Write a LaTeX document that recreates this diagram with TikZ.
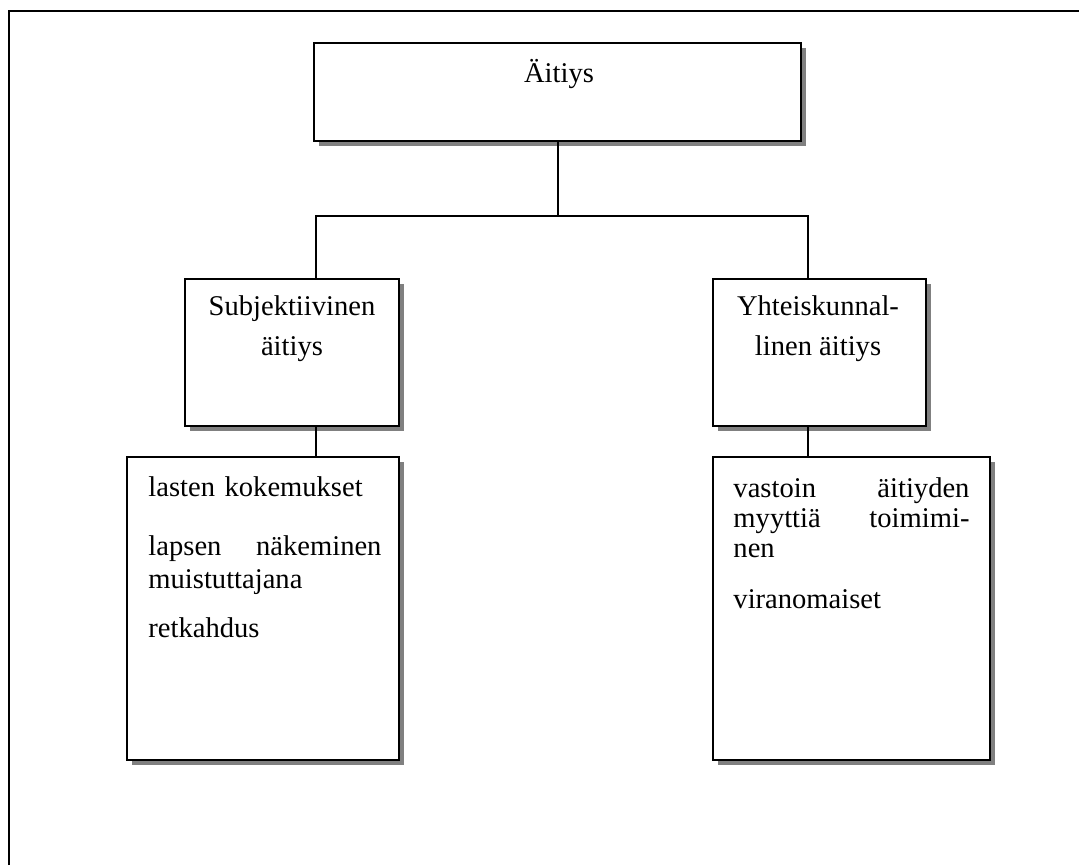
\documentclass[tikz,border=0pt]{standalone}
\usepackage{fontspec}
\setmainfont{Liberation Serif}
\usetikzlibrary{fit,shadows}

\tikzset{
  box/.style={draw, line width=0.8pt, fill=white, inner sep=0pt,
    drop shadow={shadow xshift=2pt, shadow yshift=-2pt, fill=black!50, opacity=1}},
  txt/.style={inner sep=0pt, font=\fontsize{12}{16.8}\selectfont},
  listtxt/.style={txt, anchor=base west, align=left},
  link/.style={line width=0.8pt}
}

\begin{document}
\begin{tikzpicture}[x=0.42pt, y=-0.42pt]
  \useasboundingbox (0,0) rectangle (1079,865);
  \draw[line width=1.2pt] (9,865) -- (9,11) -- (1079,11);

  % boxes
  \node[box, fit={(314,43) (801,141)}] (aitiys) {};
  \node[box, fit={(185,279) (399,426)}] (subj) {};
  \node[box, fit={(713,279) (926,426)}] (yht) {};
  \node[box, fit={(127,457) (399,760)}] (subjlist) {};
  \node[box, fit={(713,457) (990,760)}] (yhtlist) {};

  % texts (base = last line for centred ones)
  \node[txt, anchor=base] (aitiysT) at (559,82) {Äitiys};
  \node[txt, anchor=base, align=center] (subjT) at (292,355) {Subjektiivinen\\äitiys};
  \node[txt, anchor=base, align=center] (yhtT) at (818,355) {Yhteiskunnal-\\linen äitiys};
  \node[listtxt, text width=233*0.42pt, font=\fontsize{12}{13.9}\selectfont] (subjlistT) at (148,496)
    {lasten kokemukset\\[10.9pt]
     lapsen\hfill näkeminen\\
     muistuttajana\\[6.7pt]
     retkahdus};
  \node[listtxt, text width=236*0.42pt, font=\fontsize{12}{12.6}\selectfont] (yhtlistT) at (733,497)
    {vastoin\hfill äitiyden\\
     myyttiä\hfill toimimi-\\
     nen\\[9.2pt]
     viranomaiset};

  % connectors
  \coordinate (bar) at (558,216);
  \coordinate (barL) at (316,216);
  \coordinate (barR) at (808,216);
  \draw[link] (aitiys.south -| bar) -- (bar);
  \draw[link] (barL |- subj.north) -- (barL) -- (barR) -- (barR |- yht.north);
  \draw[link] (barL |- subj.south) -- (barL |- subjlist.north);
  \draw[link] (barR |- yht.south) -- (barR |- yhtlist.north);
\end{tikzpicture}
\end{document}
